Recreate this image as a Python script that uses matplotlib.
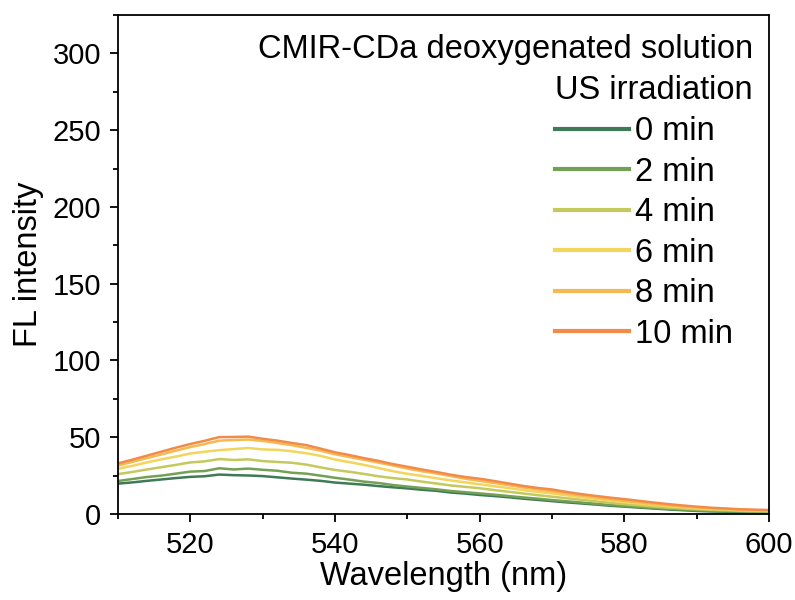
import numpy as np
import matplotlib.pyplot as plt
plt.switch_backend('agg')

plt.rcParams['font.family'] = ['Liberation Sans', 'DejaVu Sans']

# wavelength grid (nm)
wavelength = np.arange(510, 601, 2)

# FL intensity, one list per irradiation time
fl_0min = [19.8, 20.6, 21.6, 22.5, 23.4, 24.2, 24.6, 25.7, 25.3, 25.1, 24.7, 23.9, 23.1, 22.4, 21.6,
           20.5, 19.8, 19.1, 18.2, 17.4, 16.7, 15.8, 15.1, 14.0, 13.3, 12.4, 11.7, 10.9, 10.0, 9.2,
           8.4, 7.6, 6.9, 6.2, 5.4, 4.8, 4.2, 3.6, 3.0, 2.5, 2.0, 1.7, 1.5, 1.3, 1.2, 1.1]
fl_2min = [21.5, 22.8, 24.1, 25.0, 26.3, 27.6, 28.0, 29.8, 29.0, 29.6, 28.8, 28.2, 26.9, 26.3, 25.0,
           23.6, 22.4, 21.1, 20.2, 18.9, 17.9, 17.0, 16.1, 15.0, 14.2, 13.4, 12.6, 11.7, 10.8, 10.0,
           9.1, 8.3, 7.5, 6.7, 5.9, 5.2, 4.6, 3.9, 3.4, 2.9, 2.4, 2.1, 1.8, 1.6, 1.4, 1.3]
fl_4min = [26.0, 27.4, 29.0, 30.5, 32.0, 33.6, 34.3, 35.8, 35.2, 35.6, 34.5, 33.9, 33.4, 32.2, 30.4,
           28.7, 27.5, 26.1, 24.6, 23.4, 22.5, 21.1, 19.9, 18.6, 17.7, 16.8, 15.6, 14.5, 13.4, 12.3,
           11.3, 10.3, 9.3, 8.3, 7.3, 6.4, 5.6, 4.8, 4.1, 3.6, 3.1, 2.7, 2.4, 2.1, 1.9, 1.7]
fl_6min = [29.5, 31.4, 33.6, 35.6, 37.4, 39.4, 40.6, 41.6, 42.3, 43.0, 42.1, 41.8, 40.9, 39.6, 37.9,
           35.5, 33.8, 32.0, 30.0, 27.9, 26.2, 24.8, 23.3, 21.9, 20.6, 19.4, 18.1, 16.9, 15.6, 14.4,
           13.4, 12.2, 11.0, 9.9, 8.8, 7.7, 6.8, 5.9, 5.1, 4.4, 3.8, 3.3, 2.9, 2.6, 2.3, 2.1]
fl_8min = [31.6, 34.0, 36.4, 38.8, 41.3, 43.6, 45.6, 47.8, 48.2, 48.5, 47.6, 46.3, 44.9, 43.1, 41.3,
           38.9, 37.1, 35.3, 33.5, 31.6, 29.6, 27.9, 26.4, 24.7, 23.0, 21.6, 20.2, 18.8, 17.3, 16.0,
           14.8, 13.4, 12.1, 10.9, 9.7, 8.6, 7.6, 6.6, 5.7, 4.9, 4.3, 3.7, 3.3, 2.9, 2.6, 2.4]
fl_10min = [33.0, 35.4, 38.0, 40.6, 43.2, 45.6, 47.7, 50.1, 50.2, 50.4, 49.0, 47.8, 46.3, 44.9, 42.6,
            40.2, 38.4, 36.4, 34.6, 32.5, 30.8, 29.0, 27.4, 25.6, 24.1, 23.0, 21.5, 19.9, 18.3, 17.0,
            16.0, 14.4, 13.0, 11.8, 10.7, 9.7, 8.6, 7.5, 6.5, 5.6, 4.8, 4.1, 3.6, 3.1, 2.8, 2.6]

labels = ['0 min', '2 min', '4 min', '6 min', '8 min', '10 min']
series = [fl_0min, fl_2min, fl_4min, fl_6min, fl_8min, fl_10min]
colors = ['#3f7a57', '#74a055', '#c4c95e', '#f2d55c', '#f6b952', '#f38b48']

fig = plt.figure(figsize=(7.95, 6.0), dpi=100)
ax = fig.add_axes([0.1484, 0.1433, 0.8189, 0.8317])

for y, c, lab in zip(series, colors, labels):
    ax.plot(wavelength, y, color=c, lw=1.8, label=lab)

ax.set_xlim(510, 600)
ax.set_ylim(0, 325)
ax.set_xticks([520, 540, 560, 580, 600])
ax.set_xticks(np.arange(510, 601, 10), minor=True)
ax.set_yticks(np.arange(0, 301, 50))
ax.set_yticks(np.arange(0, 326, 25), minor=True)
ax.tick_params(which='major', direction='out', length=6, width=1.3, labelsize=21, pad=6)
ax.tick_params(which='minor', direction='out', length=3.5, width=1.3)
for s in ax.spines.values():
    s.set_linewidth(1.3)

ax.set_xlabel('Wavelength (nm)', fontsize=23.5, labelpad=2)
ax.set_ylabel('FL intensity', fontsize=23.5, labelpad=6)

ax.text(0.975, 0.93, 'CMIR-CDa deoxygenated solution', transform=ax.transAxes,
        ha='right', va='center', fontsize=23.5)
ax.text(0.975, 0.848, 'US irradiation', transform=ax.transAxes,
        ha='right', va='center', fontsize=23.5)

leg = ax.legend(loc='upper left', bbox_to_anchor=(0.672, 0.797), frameon=False,
                fontsize=23.5, handlelength=2.25, handletextpad=0.2, labelspacing=0.29,
                borderaxespad=0, borderpad=0)
for h in leg.get_lines():
    h.set_linewidth(3)

fig.savefig('out.png', dpi=100)
